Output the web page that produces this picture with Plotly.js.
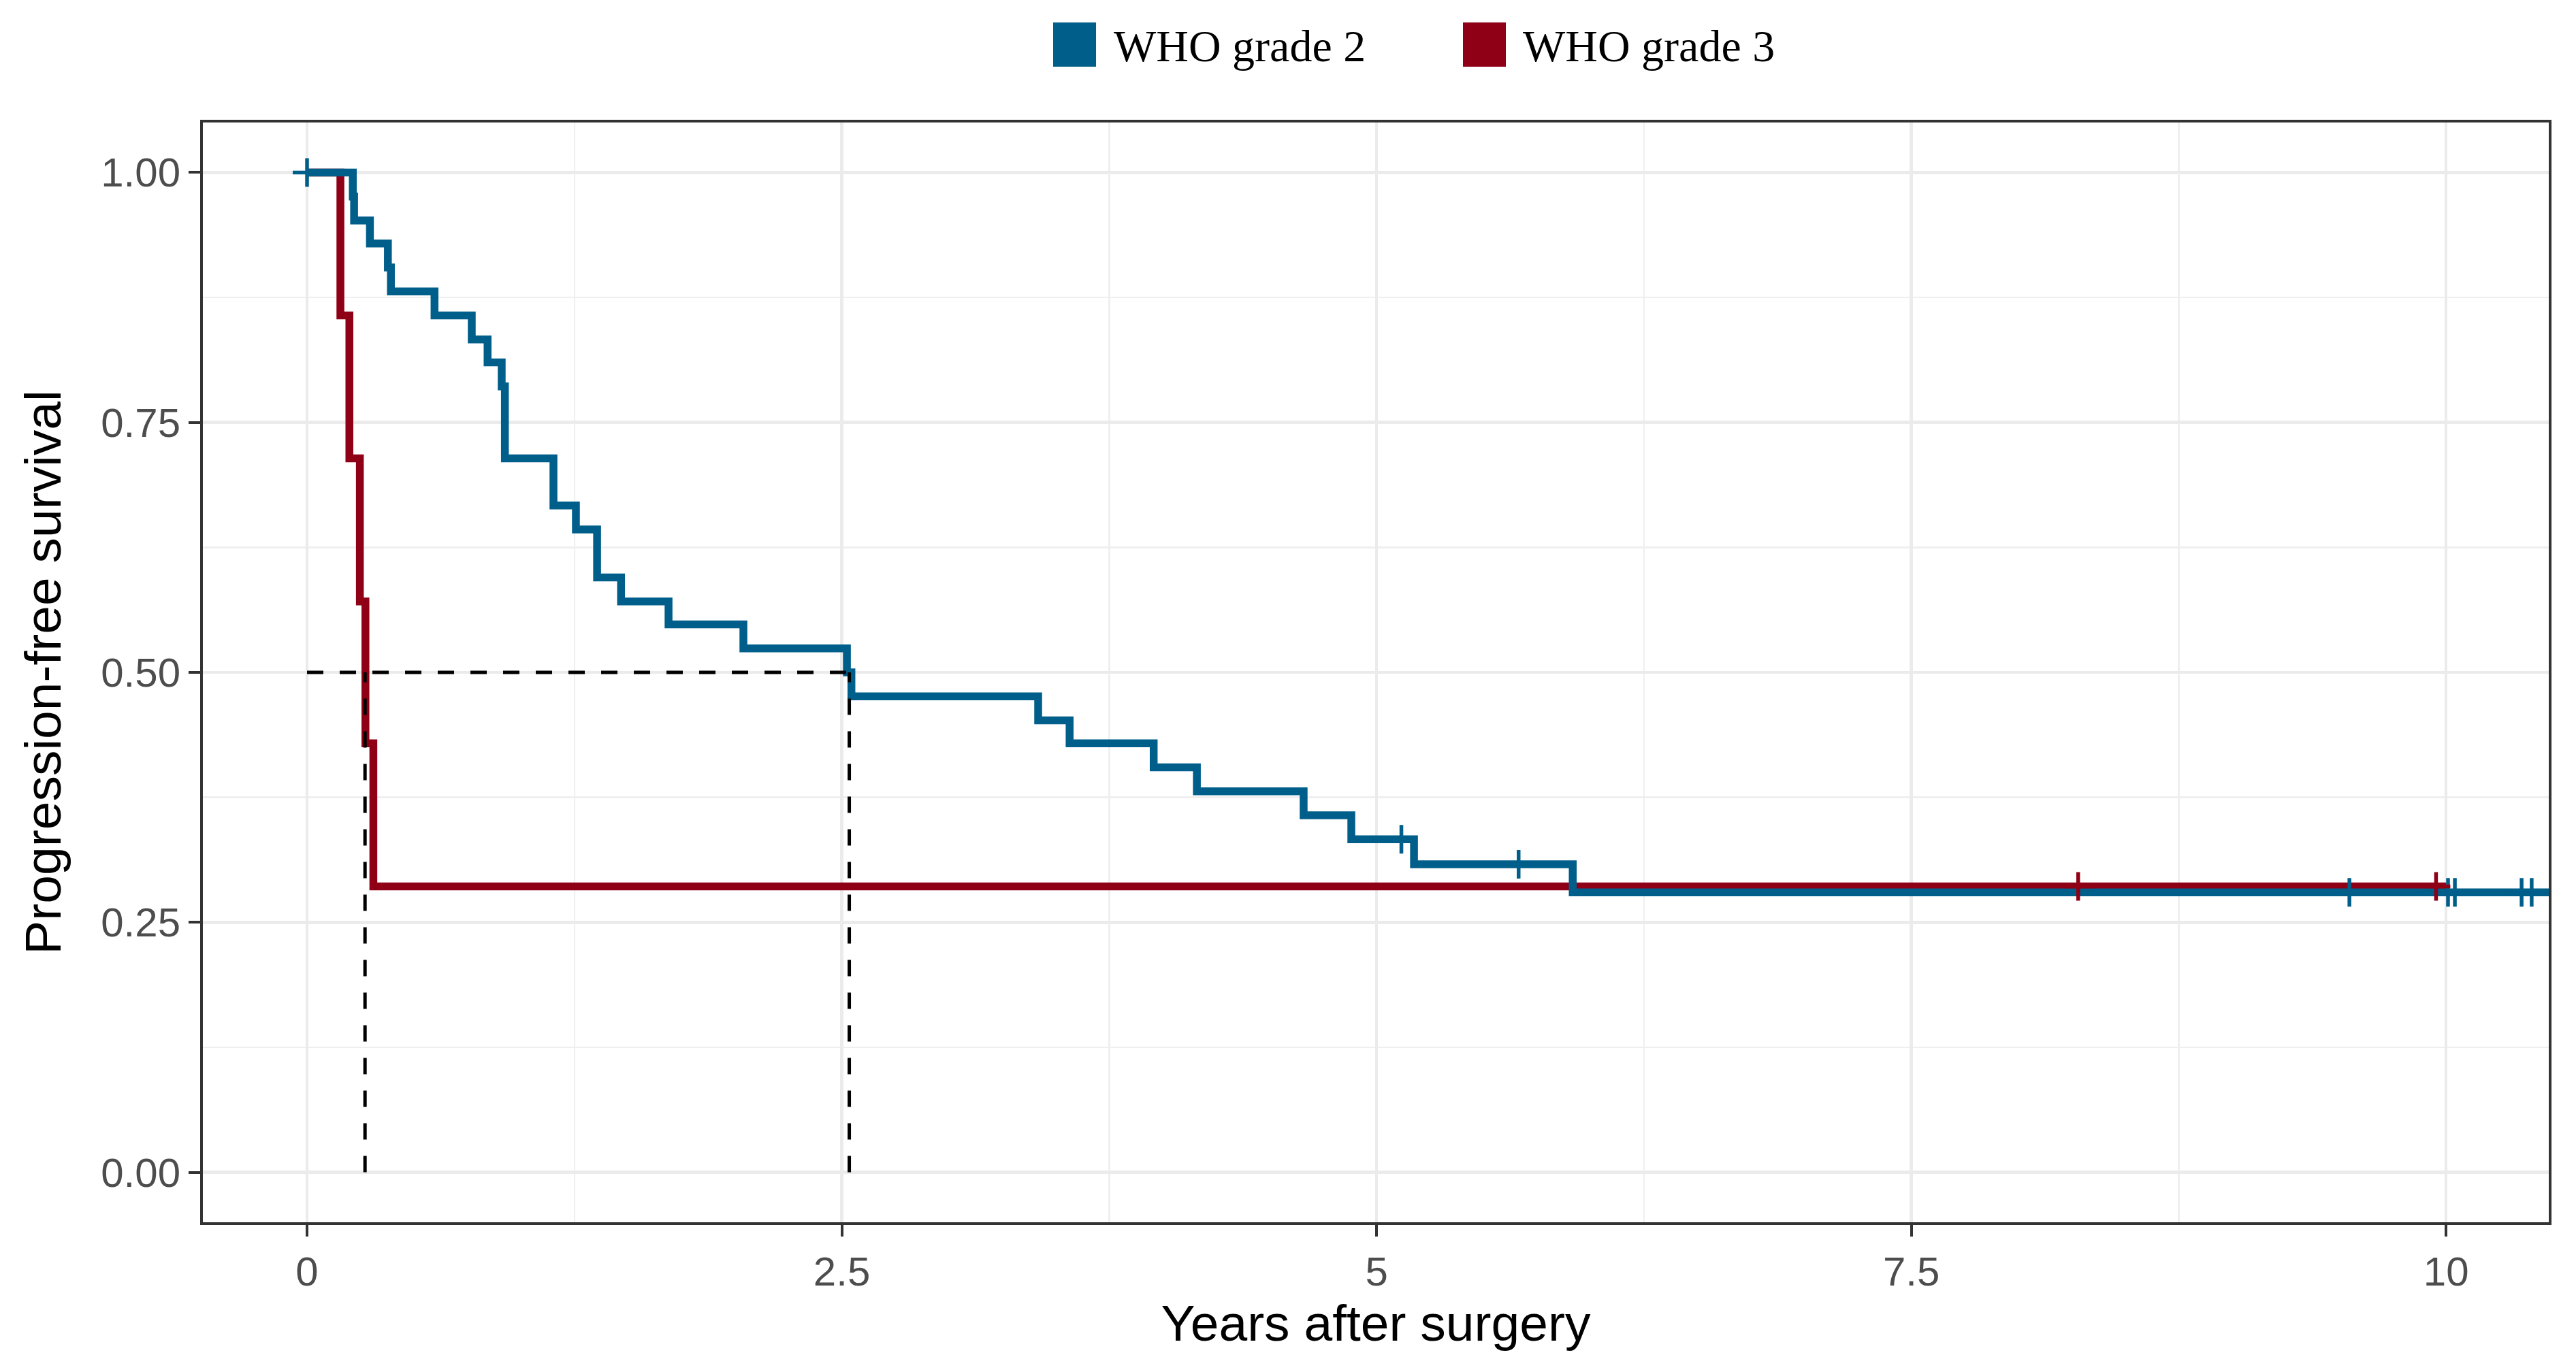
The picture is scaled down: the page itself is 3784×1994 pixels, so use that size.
<!DOCTYPE html>
<html>
<head>
<meta charset="utf-8">
<script src="https://cdn.plot.ly/plotly-3.0.1.min.js"></script>
<style>html,body{margin:0;padding:0;background:#fff;}#chart{width:3784px;height:1994px;}</style>
</head>
<body>
<div id="chart"></div>
<script>
// ---- data ----
const seriesNames = ['WHO grade 2', 'WHO grade 3'];
const seriesColors = ['#005E8A', '#8F0016'];

// WHO grade 2: Kaplan-Meier step (time, survival)
const g2Times = [0, 0.214, 0.220, 0.294, 0.378, 0.392, 0.596, 0.770, 0.844, 0.910, 0.925, 1.152, 1.257, 1.356, 1.468, 1.690, 2.040, 2.524, 2.545, 3.418, 3.565, 3.958, 4.160, 4.659, 4.882, 5.175, 5.917, 10.70];
const g2Surv  = [1.000, 0.976, 0.952, 0.929, 0.905, 0.881, 0.857, 0.833, 0.810, 0.786, 0.714, 0.667, 0.643, 0.595, 0.571, 0.548, 0.524, 0.500, 0.476, 0.452, 0.429, 0.405, 0.381, 0.357, 0.333, 0.308, 0.280, 0.280];
const g2Censor = [0, 5.116, 5.664, 9.548, 10.009, 10.041, 10.353, 10.400];

// WHO grade 3
const g3Times = [0, 0.156, 0.198, 0.247, 0.273, 0.310, 10.00];
const g3Surv  = [1.000, 0.857, 0.714, 0.571, 0.429, 0.286, 0.286];
const g3Censor = [8.280, 9.953];

// median survival lines
const medianLevel = 0.5;
const medianTimes = [0.271, 2.535];

// axis ticks
const xTickVals = [0, 2.5, 5, 7.5, 10];
const xTickText = ['0', '2.5', '5', '7.5', '10'];
const yTickVals = [0, 0.25, 0.5, 0.75, 1];
const yTickText = ['0.00', '0.25', '0.50', '0.75', '1.00'];

// ---- helpers ----
function stepAt(times, surv, t) {
  let v = surv[0];
  for (let i = 0; i < times.length; i++) { if (times[i] <= t) v = surv[i]; }
  return v;
}

const W = 3784, H = 1994;
const M = {l: 298, r: 40, t: 180, b: 198};
const PW = W - M.l - M.r, PH = H - M.t - M.b;
const px2x = p => (p - M.l) / PW;
const px2y = p => (H - M.b - p) / PH;

const lineW = 11.5;
const censorStyle = c => ({symbol: 'cross-thin', size: 30, color: c, line: {color: c, width: 5.5}});
const traces = [
  {x: g3Times, y: g3Surv, mode: 'lines', line: {shape: 'hv', color: seriesColors[1], width: lineW}, name: seriesNames[1], showlegend: false},
  {x: g2Times, y: g2Surv, mode: 'lines', line: {shape: 'hv', color: seriesColors[0], width: lineW}, name: seriesNames[0], showlegend: false},
  {x: g2Censor, y: g2Censor.map(t => stepAt(g2Times, g2Surv, t)), mode: 'markers',
   marker: censorStyle(seriesColors[0]), showlegend: false, cliponaxis: false},
  {x: g3Censor, y: g3Censor.map(t => stepAt(g3Times, g3Surv, t)), mode: 'markers',
   marker: censorStyle(seriesColors[1]), showlegend: false, cliponaxis: false}
];

// median dashed lines
const mx = [0, Math.max(...medianTimes)], my = [medianLevel, medianLevel];
medianTimes.forEach(m => { mx.push(null, m, m); my.push(null, 0, medianLevel); });
traces.push({x: mx, y: my, mode: 'lines', line: {color: '#000000', width: 5, dash: '24px,24px'}, showlegend: false, connectgaps: false});

// manual legend (top centre)
const legendItems = [
  {sq0: 1547, sq1: 1610, tx: 1634},
  {sq0: 2149, sq1: 2212, tx: 2235}
];
const shapes = [], annotations = [];
legendItems.forEach((it, i) => {
  shapes.push({type: 'rect', xref: 'paper', yref: 'paper', x0: px2x(it.sq0), x1: px2x(it.sq1), y0: px2y(98), y1: px2y(33),
               fillcolor: seriesColors[i], line: {width: 0}});
  annotations.push({xref: 'paper', yref: 'paper', x: px2x(it.tx), y: px2y(68), xanchor: 'left', yanchor: 'middle',
                    text: seriesNames[i], showarrow: false,
                    font: {family: 'Liberation Serif, serif', size: 66, color: '#000000'}});
});

const tickFont = {family: 'Liberation Sans, Arial, sans-serif', size: 60, color: '#4D4D4D'};
const titleFont = {family: 'Liberation Sans, Arial, sans-serif', size: 75, color: '#000000'};

const layout = {
  width: W, height: H,
  margin: M,
  paper_bgcolor: '#FFFFFF', plot_bgcolor: '#FFFFFF',
  showlegend: false,
  hovermode: false,
  xaxis: {
    range: [-0.487, 10.48], tickmode: 'array', tickvals: xTickVals, ticktext: xTickText,
    showgrid: true, gridcolor: '#EBEBEB', gridwidth: 4.5,
    minor: {tickmode: 'linear', tick0: 1.25, dtick: 2.5, showgrid: true, gridcolor: '#EFEFEF', gridwidth: 2.5, ticks: ''},
    zeroline: false, showline: true, mirror: true, linecolor: '#333333', linewidth: 4,
    ticks: 'outside', ticklen: 17, tickwidth: 4, tickcolor: '#333333',
    tickfont: tickFont,
    title: {text: 'Years after surgery', font: titleFont, standoff: 0}
  },
  yaxis: {
    range: [-0.05, 1.05], tickmode: 'array', tickvals: yTickVals, ticktext: yTickText,
    showgrid: true, gridcolor: '#EBEBEB', gridwidth: 4.5,
    minor: {tickmode: 'linear', tick0: 0.125, dtick: 0.25, showgrid: true, gridcolor: '#EFEFEF', gridwidth: 2.5, ticks: ''},
    zeroline: false, showline: true, mirror: true, linecolor: '#333333', linewidth: 4,
    ticks: 'outside', ticklen: 17, tickwidth: 4, tickcolor: '#333333',
    tickfont: tickFont,
    title: {text: 'Progression-free survival', font: titleFont, standoff: 35}
  },
  shapes: shapes,
  annotations: annotations
};

Plotly.newPlot('chart', traces, layout, {staticPlot: true, displayModeBar: false});
</script>
</body>
</html>
